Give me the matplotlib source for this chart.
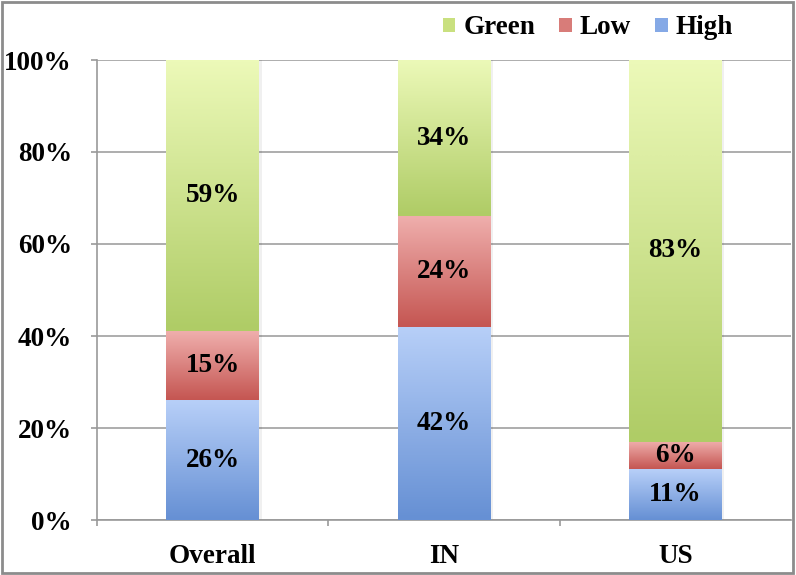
import numpy as np
import matplotlib.pyplot as plt
from matplotlib.colors import LinearSegmentedColormap
from matplotlib.patches import Patch, Rectangle

categories = ['Overall', 'IN', 'US']
high = [26, 42, 11]
low = [15, 24, 6]
green = [59, 34, 83]

series = [('High', high), ('Low', low), ('Green', green)]
# top colour, bottom colour of each gradient
colors = {
    'High': ('#b7cff8', '#6690d4'),
    'Low': ('#efaeac', '#c55652'),
    'Green': ('#ecf9b8', '#afcc66'),
}
legend_colors = {'Green': '#c9e07f', 'Low': '#d87c79', 'High': '#85a9e6'}
plt.rcParams['font.family'] = ['Liberation Serif', 'DejaVu Serif']
plt.rcParams['font.weight'] = 'bold'
fs = 19.5

fig = plt.figure(figsize=(7.96, 5.75), dpi=100)
ax = fig.add_axes([97 / 796, 55 / 575, 694 / 796, 460 / 575])

x = np.arange(len(categories))
bottom = np.zeros(len(categories))
grad = np.linspace(1, 0, 64).reshape(-1, 1)
for name, vals in series:
    bars = ax.bar(x, vals, 0.4, bottom=bottom, color='none', zorder=3)
    cmap = LinearSegmentedColormap.from_list(name, [colors[name][1], colors[name][0]])
    for b, v in zip(bars, vals):
        x0, y0, w, h = b.get_x(), b.get_y(), b.get_width(), b.get_height()
        ax.imshow(grad, cmap=cmap, extent=[x0, x0 + w, y0, y0 + h],
                  aspect='auto', zorder=3, interpolation='bicubic', vmin=0, vmax=1)
        # faint shadow on the right
        ax.add_patch(Rectangle((x0 + w, y0), 0.012, h, color='#000000', alpha=0.06,
                               zorder=2, lw=0))
        ax.text(x0 + w / 2, y0 + h / 2, f'{v}%', ha='center', va='center',
                fontsize=fs, fontweight='bold', zorder=4)
    bottom += np.array(vals)

ax.set_xlim(-0.5, 2.5)
ax.set_ylim(0, 100)
ax.set_yticks(np.arange(0, 101, 20))
ax.set_yticklabels([f'{t}%' for t in range(0, 101, 20)], fontsize=fs, fontweight='bold')
ax.set_xticks(x)
ax.set_xticklabels(categories, fontsize=fs, fontweight='bold')
ax.set_xticks([-0.5, 0.5, 1.5], minor=True)
ax.tick_params(axis='x', which='major', length=0, pad=17)
ax.tick_params(axis='x', which='minor', length=4, color='#999999', width=1.2)
ax.tick_params(axis='y', length=4.5, color='#999999', width=1.2, pad=13.5)
ax.grid(axis='y', color='#a0a0a0', lw=1.2, zorder=1)
ax.set_axisbelow(True)
for s in ['top', 'right']:
    ax.spines[s].set_visible(False)
for s in ['left', 'bottom']:
    ax.spines[s].set_color('#999999')
    ax.spines[s].set_linewidth(1.2)

handles = [Patch(facecolor=legend_colors[n], label=n) for n in ['Green', 'Low', 'High']]
fig.legend(handles=handles, loc='center', bbox_to_anchor=(588 / 796, 1 - 28 / 575),
           ncol=3, frameon=False, handlelength=0.45, handleheight=0.45,
           handletextpad=0.3, columnspacing=0.9,
           prop={'family': 'Liberation Serif', 'weight': 'bold', 'size': fs})

fig.patches.append(Rectangle((0.002, 0.003), 0.994, 0.993, transform=fig.transFigure,
                             fill=False, edgecolor='#8c8c8c', lw=2))

fig.savefig('out.png', dpi=100)
